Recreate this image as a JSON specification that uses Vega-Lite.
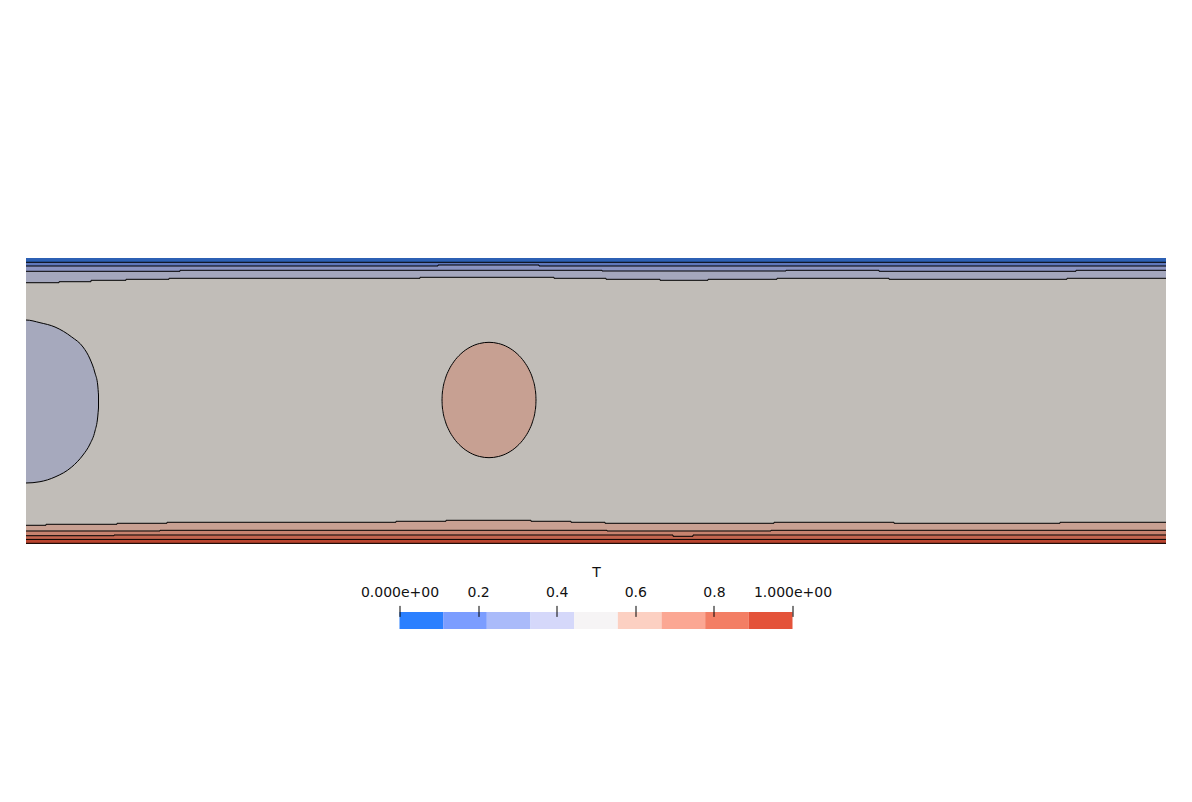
{
  "$schema": "https://vega.github.io/schema/vega-lite/v6.json",
  "background": "white",
  "padding": {"left": 24, "top": 258, "right": 0, "bottom": 0},
  "spacing": 68,
  "bounds": "flush",
  "center": true,
  "config": {"view": {"stroke": null}, "font": "DejaVu Sans"},
  "datasets": {
    "contours": [
      {"line": "t1", "x": 0, "y": 0.985}, {"line": "t1", "x": 4, "y": 0.985},
      {"line": "t2", "x": 0, "y": 0.972}, {"line": "t2", "x": 1.4456, "y": 0.9755}, {"line": "t2", "x": 1.8, "y": 0.972}, {"line": "t2", "x": 4, "y": 0.972},
      {"line": "t3", "x": 0, "y": 0.9535}, {"line": "t3", "x": 0.5404, "y": 0.957}, {"line": "t3", "x": 2.0211, "y": 0.9545}, {"line": "t3", "x": 2.6667, "y": 0.957}, {"line": "t3", "x": 2.993, "y": 0.9535}, {"line": "t3", "x": 3.6842, "y": 0.957}, {"line": "t3", "x": 4, "y": 0.957},
      {"line": "t4", "x": 0, "y": 0.9136}, {"line": "t4", "x": 0.1158, "y": 0.9171}, {"line": "t4", "x": 0.2281, "y": 0.922}, {"line": "t4", "x": 0.3509, "y": 0.9255}, {"line": "t4", "x": 0.5018, "y": 0.929}, {"line": "t4", "x": 1.3825, "y": 0.9325}, {"line": "t4", "x": 1.8526, "y": 0.929}, {"line": "t4", "x": 2.0351, "y": 0.9255}, {"line": "t4", "x": 2.2246, "y": 0.922}, {"line": "t4", "x": 2.393, "y": 0.9255}, {"line": "t4", "x": 2.6351, "y": 0.929}, {"line": "t4", "x": 3.0281, "y": 0.9255}, {"line": "t4", "x": 3.6526, "y": 0.929}, {"line": "t4", "x": 4, "y": 0.929},
      {"line": "bA", "x": 0, "y": 0.0654}, {"line": "bA", "x": 0.0702, "y": 0.0689}, {"line": "bA", "x": 0.3193, "y": 0.0724}, {"line": "bA", "x": 0.4947, "y": 0.0759}, {"line": "bA", "x": 1.2982, "y": 0.0794}, {"line": "bA", "x": 1.4737, "y": 0.0829}, {"line": "bA", "x": 1.7719, "y": 0.0794}, {"line": "bA", "x": 1.9123, "y": 0.0759}, {"line": "bA", "x": 2.0316, "y": 0.0724}, {"line": "bA", "x": 2.6246, "y": 0.0759}, {"line": "bA", "x": 3.0456, "y": 0.0724}, {"line": "bA", "x": 3.6281, "y": 0.0759}, {"line": "bA", "x": 4, "y": 0.0759},
      {"line": "bB", "x": 0, "y": 0.0455}, {"line": "bB", "x": 0.4702, "y": 0.0479}, {"line": "bB", "x": 2.0386, "y": 0.0455}, {"line": "bB", "x": 2.614, "y": 0.0479}, {"line": "bB", "x": 4, "y": 0.0479},
      {"line": "bC", "x": 0, "y": 0.029}, {"line": "bC", "x": 0.3088, "y": 0.0315}, {"line": "bC", "x": 2.2702, "y": 0.0269}, {"line": "bC", "x": 2.3404, "y": 0.0315}, {"line": "bC", "x": 4, "y": 0.0315},
      {"line": "bD", "x": 0, "y": 0.0161}, {"line": "bD", "x": 4, "y": 0.0161},
      {"line": "bE", "x": 0, "y": 0.0024}, {"line": "bE", "x": 4, "y": 0.0024}
    ],
    "blob": [
      {"x": -0.01, "y": 0.2133, "y2": 0.7832}, {"x": 0, "y": 0.2133, "y2": 0.7832}, {"x": 0.0491, "y": 0.2178, "y2": 0.7738}, {"x": 0.1018, "y": 0.2343, "y2": 0.7587}, {"x": 0.1604, "y": 0.2692, "y2": 0.7238}, {"x": 0.2, "y": 0.3112, "y2": 0.6888}, {"x": 0.2246, "y": 0.3497, "y2": 0.6469}, {"x": 0.2421, "y": 0.3951, "y2": 0.5979}, {"x": 0.2516, "y": 0.4441, "y2": 0.5559}, {"x": 0.2544, "y": 0.4755, "y2": 0.521}
    ],
    "ellipse": [
      {"x": 1.4597, "y": 0.5035, "y2": 0.5035}, {"x": 1.4605, "y": 0.4834, "y2": 0.5236}, {"x": 1.463, "y": 0.4634, "y2": 0.5436}, {"x": 1.4712, "y": 0.4294, "y2": 0.5776}, {"x": 1.4844, "y": 0.3972, "y2": 0.6098}, {"x": 1.5009, "y": 0.3701, "y2": 0.6369}, {"x": 1.5257, "y": 0.3421, "y2": 0.6649}, {"x": 1.5586, "y": 0.3186, "y2": 0.6884}, {"x": 1.5916, "y": 0.3059, "y2": 0.7011}, {"x": 1.6246, "y": 0.3018, "y2": 0.7052}, {"x": 1.6576, "y": 0.3059, "y2": 0.7011}, {"x": 1.6906, "y": 0.3186, "y2": 0.6884}, {"x": 1.7235, "y": 0.3421, "y2": 0.6649}, {"x": 1.7483, "y": 0.3701, "y2": 0.6369}, {"x": 1.7648, "y": 0.3972, "y2": 0.6098}, {"x": 1.778, "y": 0.4294, "y2": 0.5776}, {"x": 1.7862, "y": 0.4634, "y2": 0.5436}, {"x": 1.7887, "y": 0.4834, "y2": 0.5236}, {"x": 1.7895, "y": 0.5035, "y2": 0.5035}
    ],
    "bar": [
      {"t0": 0, "t1": 0.1111, "mid": 0.0556}, {"t0": 0.1111, "t1": 0.2222, "mid": 0.1667}, {"t0": 0.2222, "t1": 0.3333, "mid": 0.2778}, {"t0": 0.3333, "t1": 0.4444, "mid": 0.3889}, {"t0": 0.4444, "t1": 0.5556, "mid": 0.5}, {"t0": 0.5556, "t1": 0.6667, "mid": 0.6111}, {"t0": 0.6667, "t1": 0.7778, "mid": 0.7222}, {"t0": 0.7778, "t1": 0.8889, "mid": 0.8333}, {"t0": 0.8889, "t1": 1, "mid": 0.9444}
    ]
  },
  "vconcat": [
    {
      "width": 1140,
      "height": 286,
      "view": {"fill": "#c1bdb8", "stroke": null},
      "encoding": {
        "x": {"field": "x", "type": "quantitative", "scale": {"domain": [0, 4], "nice": false, "zero": false}, "axis": null},
        "y": {"field": "y", "type": "quantitative", "scale": {"domain": [0, 1], "nice": false, "zero": false}, "axis": null}
      },
      "layer": [
        {"data": {"name": "contours"}, "transform": [{"filter": "datum.line == 't4'"}], "mark": {"type": "area", "interpolate": "step-after", "color": "#a4a7bd"}, "encoding": {"y2": {"datum": 1}}},
        {"data": {"name": "contours"}, "transform": [{"filter": "datum.line == 't3'"}], "mark": {"type": "area", "interpolate": "step-after", "color": "#8a93c0"}, "encoding": {"y2": {"datum": 1}}},
        {"data": {"name": "contours"}, "transform": [{"filter": "datum.line == 't2'"}], "mark": {"type": "area", "interpolate": "step-after", "color": "#5f78bc"}, "encoding": {"y2": {"datum": 1}}},
        {"data": {"name": "contours"}, "transform": [{"filter": "datum.line == 't1'"}], "mark": {"type": "area", "interpolate": "step-after", "color": "#2c60b4"}, "encoding": {"y2": {"datum": 1}}},
        {"data": {"name": "contours"}, "transform": [{"filter": "datum.line == 'bA'"}], "mark": {"type": "area", "interpolate": "step-after", "color": "#c8a092"}, "encoding": {"y2": {"datum": 0}}},
        {"data": {"name": "contours"}, "transform": [{"filter": "datum.line == 'bB'"}], "mark": {"type": "area", "interpolate": "step-after", "color": "#c7836f"}, "encoding": {"y2": {"datum": 0}}},
        {"data": {"name": "contours"}, "transform": [{"filter": "datum.line == 'bC'"}], "mark": {"type": "area", "interpolate": "step-after", "color": "#c4654f"}, "encoding": {"y2": {"datum": 0}}},
        {"data": {"name": "contours"}, "transform": [{"filter": "datum.line == 'bD'"}], "mark": {"type": "area", "interpolate": "step-after", "color": "#b9432e"}, "encoding": {"y2": {"datum": 0}}},
        {"data": {"name": "contours"}, "mark": {"type": "line", "interpolate": "step-after", "color": "black", "strokeWidth": 1}, "encoding": {"detail": {"field": "line"}}},
        {"data": {"name": "blob"}, "mark": {"type": "area", "interpolate": "monotone", "fill": "#a6a9bd", "stroke": "black", "strokeWidth": 1, "clip": true}, "encoding": {"y2": {"field": "y2"}}},
        {"data": {"name": "ellipse"}, "mark": {"type": "area", "interpolate": "monotone", "fill": "#c7a092", "stroke": "black", "strokeWidth": 1}, "encoding": {"y2": {"field": "y2"}}}
      ]
    },
    {
      "width": 393,
      "height": 17,
      "data": {"name": "bar"},
      "mark": {"type": "rect"},
      "encoding": {
        "x": {
          "field": "t0", "type": "quantitative", "title": "T",
          "scale": {"domain": [0, 1], "nice": false, "zero": false},
          "axis": {
            "orient": "top", "values": [0, 0.2, 0.4, 0.6, 0.8, 1],
            "labelExpr": "datum.value == 0 ? '0.000e+00' : datum.value == 1 ? '1.000e+00' : format(datum.value, '.1f')",
            "domain": false, "grid": false, "offset": -4.4, "tickSize": 11, "tickColor": "black", "tickWidth": 1,
            "labelFont": "DejaVu Sans", "labelFontSize": 14, "labelColor": "#111111", "labelPadding": 5.5, "labelFlush": false, "labelOverlap": false,
            "titleFont": "DejaVu Sans", "titleFontSize": 14, "titleFontWeight": "normal", "titleColor": "#111111", "titlePadding": 6,
            "zindex": 1
          }
        },
        "x2": {"field": "t1"},
        "color": {
          "field": "mid", "type": "quantitative", "legend": null,
          "scale": {"type": "quantize", "domain": [0, 1], "range": ["#2b80ff", "#7b9dff", "#aabbfa", "#d5d8fa", "#f6f4f5", "#fcd0c2", "#fba793", "#f37e64", "#e4533a"]}
        }
      }
    }
  ]
}
